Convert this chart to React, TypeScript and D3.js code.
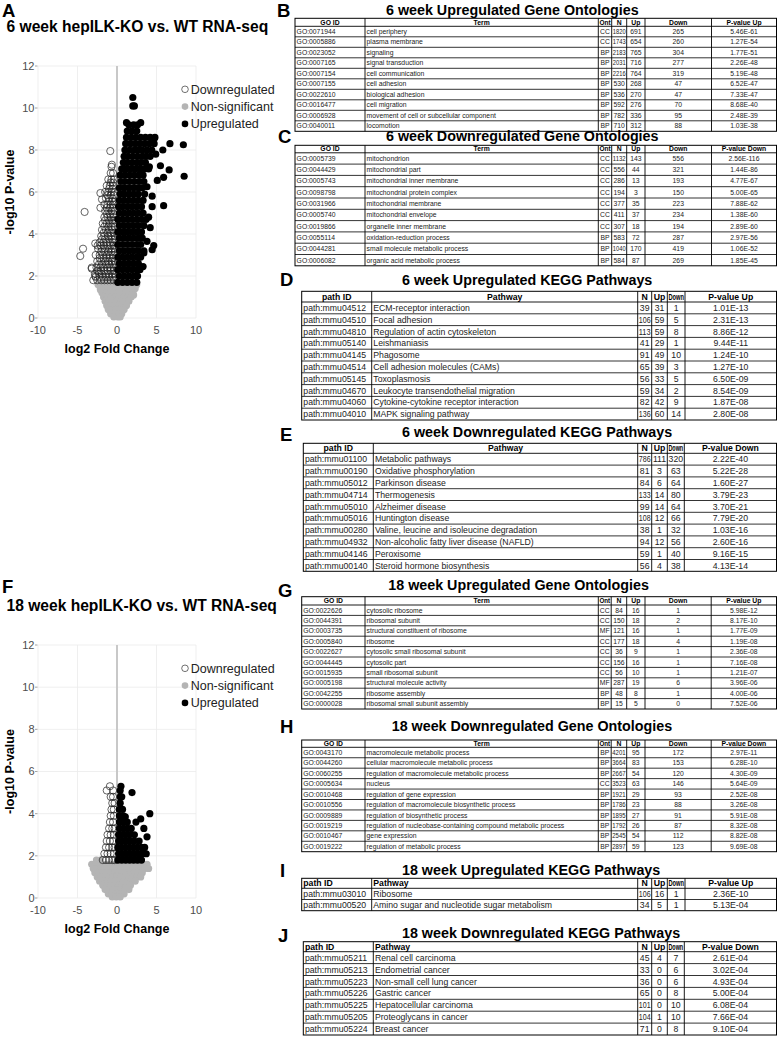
import React from "react";
import * as d3 from "d3";

const FONT = "'Liberation Sans', Arial, Helvetica, sans-serif";

// ---------- Volcano data (x = log2 FC, rows: [y, xs]) ----------
const up6: [number, number[]][] = [
  [1.7, [0.1, 0.7, 1.3, 1.9, 2.5]],
  [2.0, [0.3, 0.9, 1.5, 2.1, 2.6]],
  [2.3, [0.1, 0.7, 1.3, 1.9, 2.5, 2.9]],
  [2.6, [0.3, 0.9, 1.5, 2.1, 2.7]],
  [2.9, [0.1, 0.7, 1.3, 1.9, 2.5, 3.0]],
  [3.2, [0.3, 0.9, 1.5, 2.1, 2.7, 3.4]],
  [3.5, [0.1, 0.7, 1.3, 1.9, 2.5, 3.0]],
  [3.8, [0.3, 0.9, 1.5, 2.1, 2.7, 3.2]],
  [4.1, [0.1, 0.7, 1.3, 1.9, 2.5, 3.1]],
  [4.4, [0.3, 0.9, 1.5, 2.1, 2.7, 3.4]],
  [4.7, [0.1, 0.7, 1.3, 1.9, 2.5, 3.1, 3.7]],
  [5.0, [0.3, 0.9, 1.5, 2.1, 2.7, 3.3]],
  [5.3, [0.2, 0.7, 1.3, 1.9, 2.5, 3.1]],
  [5.6, [0.3, 0.9, 1.5, 2.1, 2.7, 3.3]],
  [5.9, [0.4, 0.9, 1.5, 2.1, 2.7, 3.5]],
  [6.2, [0.3, 0.9, 1.5, 2.1, 2.7, 3.2]],
  [6.5, [0.5, 1.0, 1.6, 2.2, 2.8, 3.4]],
  [6.8, [0.4, 1.0, 1.6, 2.2, 2.8, 3.3]],
  [7.1, [0.6, 1.1, 1.7, 2.3, 2.9, 3.5, 4.0]],
  [7.4, [0.8, 1.3, 1.9, 2.5, 3.0, 3.6]],
  [7.7, [0.9, 1.4, 2.0, 2.6, 3.2, 3.7, 4.2]],
  [8.0, [1.0, 1.6, 2.2, 2.7, 3.2, 3.8, 4.4]],
  [8.3, [1.1, 1.7, 2.3, 2.9, 3.5, 4.1, 4.7]],
  [8.6, [1.2, 1.8, 2.4, 3.0, 3.6, 4.2, 4.8]],
  [8.9, [1.3, 1.9, 2.5]],
  [9.2, [1.5, 2.1, 2.6]],
  [10.5, [2.0]],
  [10.1, [2.0, 2.2]],
  [9.3, [1.2, 3.0]],
  [8.55, [4.7]],
  [7.8, [4.9]],
  [8.0, [5.8]],
  [8.3, [6.7]],
  [8.25, [8.4]],
  [6.75, [8.5]],
  [7.05, [6.6]],
  [7.25, [5.5]],
  [6.7, [5.9]],
  [6.55, [5.1]],
  [5.8, [4.45]],
  [5.35, [5.9]],
  [5.3, [4.45]],
  [4.8, [4.0]],
  [4.3, [4.2]],
  [3.65, [3.8]],
  [3.45, [4.65]],
  [3.25, [4.45]],
  [2.45, [3.3]],
  [3.1, [3.4]],
  [6.25, [3.8]],
  [7.2, [4.1]],
];

const down6: [number, number[]][] = [
  [1.8, [-3.0, -2.5, -2.0, -1.6, -1.2, -0.8, -0.4]],
  [1.95, [-2.7, -2.2, -1.8, -1.4, -1.0, -0.6, -0.2]],
  [2.1, [-2.8, -2.3, -1.9, -1.4, -1.0, -0.6, -0.3]],
  [2.25, [-2.5, -2.0, -1.6, -1.2, -0.8, -0.4]],
  [2.4, [-3.2, -2.6, -2.1, -1.7, -1.2, -0.8, -0.4]],
  [2.55, [-2.3, -1.9, -1.4, -1.0, -0.6, -0.2]],
  [2.7, [-2.5, -2.0, -1.5, -1.1, -0.7, -0.3]],
  [2.85, [-2.2, -1.7, -1.3, -0.9, -0.5]],
  [3.0, [-2.7, -2.2, -1.8, -1.3, -0.9, -0.5]],
  [3.15, [-2.0, -1.6, -1.1, -0.7, -0.3]],
  [3.3, [-2.4, -1.9, -1.5, -1.0, -0.6, -0.3]],
  [3.45, [-2.1, -1.7, -1.2, -0.8, -0.4]],
  [3.6, [-2.2, -1.7, -1.3, -0.9, -0.5]],
  [3.75, [-1.9, -1.5, -1.0, -0.6, -0.3]],
  [3.9, [-2.0, -1.6, -1.1, -0.7, -0.3]],
  [4.05, [-1.7, -1.2, -0.8, -0.4]],
  [4.2, [-1.9, -1.4, -1.0, -0.6]],
  [4.35, [-1.6, -1.1, -0.7, -0.3]],
  [4.5, [-1.8, -1.3, -0.9, -0.5]],
  [4.65, [-1.5, -1.0, -0.6, -0.3]],
  [4.8, [-1.6, -1.2, -0.8, -0.4]],
  [4.95, [-1.3, -0.9, -0.5]],
  [5.1, [-1.5, -1.1, -0.7, -0.3]],
  [5.25, [-1.3, -0.9, -0.5]],
  [5.4, [-1.6, -1.2, -0.8, -0.5]],
  [5.55, [-1.0, -0.6, -0.3]],
  [5.7, [-1.4, -1.0, -0.6]],
  [5.85, [-1.2, -0.8, -0.4]],
  [6.0, [-1.5, -1.1, -0.7, -0.4]],
  [6.15, [-1.0, -0.6]],
  [6.3, [-1.3, -0.9, -0.5]],
  [6.45, [-0.8, -0.5]],
  [6.6, [-1.1, -0.7, -0.4]],
  [6.9, [-0.8, -0.5]],
  [7.2, [-0.7]],
  [7.95, [-0.85]],
  [7.3, [-0.65]],
  [5.95, [-2.1]],
  [5.65, [-1.9]],
  [5.25, [-2.1]],
  [5.05, [-4.1]],
  [3.55, [-2.75]],
  [3.45, [-2.45]],
  [3.3, [-4.3]],
  [2.95, [-4.65]],
  [2.35, [-3.2]],
  [2.0, [-2.75]],
  [2.2, [-2.3]],
];

const ns6: [number, number[]][] = [
  [1.6, [-2.4, -1.9, -1.4, -0.9, -0.4, 0.1, 0.6, 1.1, 1.6, 2.1, 2.5]],
  [1.4, [-2.1, -1.6, -1.1, -0.6, -0.1, 0.4, 0.9, 1.4, 1.9, 2.3]],
  [1.2, [-1.9, -1.4, -0.9, -0.4, 0.1, 0.6, 1.1, 1.6, 2.0]],
  [1.0, [-1.7, -1.2, -0.7, -0.2, 0.3, 0.8, 1.3, 1.8]],
  [0.8, [-1.5, -1.0, -0.5, 0.0, 0.5, 1.0, 1.5]],
  [0.6, [-1.3, -0.8, -0.3, 0.2, 0.7, 1.2]],
  [0.4, [-1.1, -0.6, -0.1, 0.4, 0.9]],
  [0.2, [-0.8, -0.3, 0.2, 0.6]],
  [0.05, [-0.4, 0.1, 0.4]],
  [1.35, [-2.1]],
  [1.1, [2.1]],
];

const up18: [number, number[]][] = [
  [1.8, [0.1, 0.6, 1.1, 1.6, 2.1, 2.6, 3.1]],
  [2.1, [0.2, 0.7, 1.2, 1.7, 2.2, 2.7, 3.2, 3.7]],
  [2.4, [0.1, 0.6, 1.1, 1.6, 2.1, 2.6, 3.1, 3.5]],
  [2.7, [0.2, 0.7, 1.2, 1.7, 2.2, 2.8]],
  [3.0, [0.2, 0.6, 1.1, 1.6, 2.2]],
  [3.3, [0.3, 0.8, 1.3, 1.8, 3.4]],
  [3.6, [0.3, 0.8, 1.3, 2.4]],
  [3.9, [0.3, 0.8]],
  [4.2, [0.3, 0.7]],
  [4.5, [0.4]],
  [4.8, [0.4, 0.6]],
  [5.1, [0.4]],
  [5.3, [0.5]],
  [5.0, [1.9]],
  [4.0, [4.15]],
  [3.75, [3.0]],
  [3.85, [1.05]],
  [2.9, [3.8]],
];

const down18: [number, number[]][] = [
  [1.8, [-1.8, -1.4, -1.0, -0.6, -0.3]],
  [2.1, [-1.6, -1.2, -0.8, -0.4]],
  [2.4, [-1.4, -1.0, -0.6, -0.3]],
  [2.7, [-1.3, -0.9, -0.5]],
  [3.0, [-1.2, -0.8, -0.4]],
  [3.3, [-1.0, -0.6, -0.3]],
  [3.6, [-0.9, -0.5]],
  [3.9, [-0.8, -0.4]],
  [4.2, [-0.7, -0.4]],
  [4.5, [-0.6, -0.3]],
  [4.8, [-0.8, -0.5]],
  [5.1, [-1.3, -0.5]],
  [5.3, [-0.9]],
];

const ns18: [number, number[]][] = [
  [1.8, [-2.6, -2.1]],
  [1.6, [-3.2, -2.7, -2.2, -1.7, -1.2, -0.7, -0.2, 0.3, 0.8, 1.3, 1.8, 2.3, 2.8, 3.3, 3.8]],
  [1.4, [-3.0, -2.5, -2.0, -1.5, -1.0, -0.5, 0.0, 0.5, 1.0, 1.5, 2.0, 2.5, 3.0, 3.5, 4.0]],
  [1.2, [-2.8, -2.3, -1.8, -1.3, -0.8, -0.3, 0.2, 0.7, 1.2, 1.7, 2.2, 2.7, 3.2]],
  [1.0, [-2.5, -2.0, -1.5, -1.0, -0.5, 0.0, 0.5, 1.0, 1.5, 2.0, 2.5, 3.0]],
  [0.8, [-2.2, -1.7, -1.2, -0.7, -0.2, 0.3, 0.8, 1.3, 1.8, 2.3]],
  [0.6, [-1.8, -1.3, -0.8, -0.3, 0.2, 0.7, 1.2, 1.7]],
  [0.4, [-1.5, -1.0, -0.5, 0.0, 0.5, 1.0, 1.5]],
  [0.2, [-1.1, -0.6, -0.1, 0.4, 0.9]],
  [0.05, [-0.6, -0.1, 0.4]],
];

const xTicks = [-10, -5, 0, 5, 10];
const yTicks = [0, 2, 4, 6, 8, 10, 12];
const legendLabels = ["Downregulated", "Non-significant", "Upregulated"];

// ---------- Table data ----------
const goUpHeaders = ["GO ID", "Term", "Ont", "N", "Up", "Down", "P-value Up"];
const goDownHeaders = ["GO ID", "Term", "Ont", "N", "Up", "Down", "P-value Down"];
const keggUpHeaders = ["path ID", "Pathway", "N", "Up", "Down", "P-value Up"];
const keggDownHeaders = ["path ID", "Pathway", "N", "Up", "Down", "P-value Down"];

const rowsB = [
  ["GO:0071944", "cell periphery", "CC", "1820", "691", "265", "5.46E-61"],
  ["GO:0005886", "plasma membrane", "CC", "1743", "654", "260", "1.27E-54"],
  ["GO:0023052", "signaling", "BP", "2183", "765", "304", "1.77E-51"],
  ["GO:0007165", "signal transduction", "BP", "2031", "716", "277", "2.26E-48"],
  ["GO:0007154", "cell communication", "BP", "2216", "764", "319", "5.19E-48"],
  ["GO:0007155", "cell adhesion", "BP", "530", "268", "47", "6.52E-47"],
  ["GO:0022610", "biological adhesion", "BP", "536", "270", "47", "7.33E-47"],
  ["GO:0016477", "cell migration", "BP", "592", "276", "70", "8.68E-40"],
  ["GO:0006928", "movement of cell or subcellular component", "BP", "782", "336", "95", "2.48E-39"],
  ["GO:0040011", "locomotion", "BP", "710", "312", "88", "1.03E-38"],
];
const rowsC = [
  ["GO:0005739", "mitochondrion", "CC", "1132", "143", "556", "2.56E-116"],
  ["GO:0044429", "mitochondrial part", "CC", "556", "44", "321", "1.44E-86"],
  ["GO:0005743", "mitochondrial inner membrane", "CC", "286", "13", "193", "4.77E-67"],
  ["GO:0098798", "mitochondrial protein complex", "CC", "194", "3", "150", "5.00E-65"],
  ["GO:0031966", "mitochondrial membrane", "CC", "377", "35", "223", "7.88E-62"],
  ["GO:0005740", "mitochondrial envelope", "CC", "411", "37", "234", "1.38E-60"],
  ["GO:0019866", "organelle inner membrane", "CC", "307", "18", "194", "2.89E-60"],
  ["GO:0055114", "oxidation-reduction process", "BP", "583", "72", "287", "2.97E-56"],
  ["GO:0044281", "small molecule metabolic process", "BP", "1040", "170", "419", "1.06E-52"],
  ["GO:0006082", "organic acid metabolic process", "BP", "584", "87", "269", "1.85E-45"],
];
const rowsD = [
  ["path:mmu04512", "ECM-receptor interaction", "39", "31", "1", "1.01E-13"],
  ["path:mmu04510", "Focal adhesion", "106", "59", "5", "2.31E-13"],
  ["path:mmu04810", "Regulation of actin cytoskeleton", "113", "59", "8", "8.86E-12"],
  ["path:mmu05140", "Leishmaniasis", "41", "29", "1", "9.44E-11"],
  ["path:mmu04145", "Phagosome", "91", "49", "10", "1.24E-10"],
  ["path:mmu04514", "Cell adhesion molecules (CAMs)", "65", "39", "3", "1.27E-10"],
  ["path:mmu05145", "Toxoplasmosis", "56", "33", "5", "6.50E-09"],
  ["path:mmu04670", "Leukocyte transendothelial migration", "59", "34", "2", "8.54E-09"],
  ["path:mmu04060", "Cytokine-cytokine receptor interaction", "82", "42", "9", "1.87E-08"],
  ["path:mmu04010", "MAPK signaling pathway", "136", "60", "14", "2.80E-08"],
];
const rowsE = [
  ["path:mmu01100", "Metabolic pathways", "786", "111", "320", "2.22E-40"],
  ["path:mmu00190", "Oxidative phosphorylation", "81", "3", "63", "5.22E-28"],
  ["path:mmu05012", "Parkinson disease", "84", "6", "64", "1.60E-27"],
  ["path:mmu04714", "Thermogenesis", "133", "14", "80", "3.79E-23"],
  ["path:mmu05010", "Alzheimer disease", "99", "14", "64", "3.70E-21"],
  ["path:mmu05016", "Huntington disease", "108", "12", "66", "7.79E-20"],
  ["path:mmu00280", "Valine, leucine and isoleucine degradation", "38", "1", "32", "1.03E-16"],
  ["path:mmu04932", "Non-alcoholic fatty liver disease (NAFLD)", "94", "12", "56", "2.60E-16"],
  ["path:mmu04146", "Peroxisome", "59", "1", "40", "9.16E-15"],
  ["path:mmu00140", "Steroid hormone biosynthesis", "56", "4", "38", "4.13E-14"],
];
const rowsG = [
  ["GO:0022626", "cytosolic ribosome", "CC", "84", "16", "1", "5.98E-12"],
  ["GO:0044391", "ribosomal subunit", "CC", "150", "18", "2", "8.17E-10"],
  ["GO:0003735", "structural constituent of ribosome", "MF", "121", "16", "1", "1.77E-09"],
  ["GO:0005840", "ribosome", "CC", "177", "18", "4", "1.19E-08"],
  ["GO:0022627", "cytosolic small ribosomal subunit", "CC", "36", "9", "1", "2.36E-08"],
  ["GO:0044445", "cytosolic part", "CC", "156", "16", "1", "7.16E-08"],
  ["GO:0015935", "small ribosomal subunit", "CC", "56", "10", "1", "1.21E-07"],
  ["GO:0005198", "structural molecule activity", "MF", "287", "19", "6", "3.96E-06"],
  ["GO:0042255", "ribosome assembly", "BP", "48", "8", "1", "4.00E-06"],
  ["GO:0000028", "ribosomal small subunit assembly", "BP", "15", "5", "0", "7.52E-06"],
];
const rowsH = [
  ["GO:0043170", "macromolecule metabolic process", "BP", "4201", "95", "172", "2.97E-11"],
  ["GO:0044260", "cellular macromolecule metabolic process", "BP", "3664", "83", "153", "6.28E-10"],
  ["GO:0060255", "regulation of macromolecule metabolic process", "BP", "2667", "54", "120", "4.30E-09"],
  ["GO:0005634", "nucleus", "CC", "3523", "63", "146", "5.64E-09"],
  ["GO:0010468", "regulation of gene expression", "BP", "1921", "29", "93", "2.52E-08"],
  ["GO:0010556", "regulation of macromolecule biosynthetic process", "BP", "1786", "23", "88", "3.26E-08"],
  ["GO:0009889", "regulation of biosynthetic process", "BP", "1895", "27", "91", "5.91E-08"],
  ["GO:0019219", "regulation of nucleobase-containing compound metabolic process", "BP", "1792", "26", "87", "8.32E-08"],
  ["GO:0010467", "gene expression", "BP", "2545", "54", "112", "8.82E-08"],
  ["GO:0019222", "regulation of metabolic process", "BP", "2897", "59", "123", "9.69E-08"],
];
const rowsI = [
  ["path:mmu03010", "Ribosome", "106", "16", "1", "2.36E-10"],
  ["path:mmu00520", "Amino sugar and nucleotide sugar metabolism", "34", "5", "1", "5.13E-04"],
];
const rowsJ = [
  ["path:mmu05211", "Renal cell carcinoma", "45", "4", "7", "2.61E-04"],
  ["path:mmu05213", "Endometrial cancer", "33", "0", "6", "3.02E-04"],
  ["path:mmu05223", "Non-small cell lung cancer", "36", "0", "6", "4.93E-04"],
  ["path:mmu05226", "Gastric cancer", "65", "0", "8", "5.00E-04"],
  ["path:mmu05225", "Hepatocellular carcinoma", "101", "0", "10", "6.08E-04"],
  ["path:mmu05205", "Proteoglycans in cancer", "104", "1", "10", "7.66E-04"],
  ["path:mmu05224", "Breast cancer", "71", "0", "8", "9.10E-04"],
];

const flatten = (rows: [number, number[]][]) =>
  rows.flatMap(([yy, xs]) => xs.map((xx) => [xx, yy] as [number, number]));

let measureCtx: CanvasRenderingContext2D | null = null;
function measure(text: string, size: number, bold: boolean) {
  if (!measureCtx && typeof document !== "undefined") {
    measureCtx = document.createElement("canvas").getContext("2d");
  }
  if (!measureCtx) return text.length * size * 0.55;
  measureCtx.font = `${bold ? "bold " : ""}${size}px 'Liberation Sans', Arial, sans-serif`;
  return measureCtx.measureText(text).width;
}

const GRAY = "#b4b4b4";

function Volcano(props: {
  y0: number; y12: number; letter: string; letterY: number; title: string; titleY: number;
  up: [number, number[]][]; down: [number, number[]][]; ns: [number, number[]][];
}) {
  const { y0, y12 } = props;
  const x = d3.scaleLinear().domain([-10, 10]).range([38, 196]);
  const y = d3.scaleLinear().domain([0, 12]).range([y0, y12]);
  const r = 3.6;
  const up = flatten(props.up);
  const down = flatten(props.down);
  const ns = flatten(props.ns);
  return (
    <g>
      <text x={2} y={props.letterY} fontSize={18.5} fontWeight="bold" fontFamily={FONT}>{props.letter}</text>
      <text x={6.5} y={props.titleY} fontSize={15.6} fontWeight="bold" fontFamily={FONT}>{props.title}</text>
      {yTicks.map((t) => (
        <line key={"h" + t} x1={x(-10)} x2={x(10)} y1={y(t)} y2={y(t)} stroke="#ebebeb" strokeWidth={0.8} />
      ))}
      {xTicks.filter((t) => t !== 0).map((t) => (
        <line key={"v" + t} x1={x(t)} x2={x(t)} y1={y(0)} y2={y(12)} stroke="#ebebeb" strokeWidth={0.8} />
      ))}
      <line x1={x(0)} x2={x(0)} y1={y(0)} y2={y(12)} stroke="#c8c8c8" strokeWidth={2} />
      {yTicks.map((t) => (
        <g key={"yt" + t}>
          <line x1={x(-10) - 3} x2={x(-10) - 0.5} y1={y(t)} y2={y(t)} stroke="#666" strokeWidth={0.6} />
          <text x={x(-10) - 3.5} y={y(t)} dy="0.35em" textAnchor="end" fontSize={11} fill="#4d4d4d" fontFamily={FONT}>{t}</text>
        </g>
      ))}
      {xTicks.map((t) => (
        <text key={"xt" + t} x={x(t)} y={y(0) + 15.5} textAnchor="middle" fontSize={11} fill="#4d4d4d" fontFamily={FONT}>{t}</text>
      ))}
      <text x={x(0)} y={y(0) + 35} textAnchor="middle" fontSize={12.5} fontWeight="bold" fontFamily={FONT}>log2 Fold Change</text>
      <text transform={`translate(14,${(y(0) + y(12)) / 2}) rotate(-90)`} textAnchor="middle" fontSize={12.5} fontWeight="bold" fontFamily={FONT}>-log10 P-value</text>
      {ns.map((p, i) => (
        <circle key={"n" + i} cx={x(p[0])} cy={y(p[1])} r={r} fill={GRAY} />
      ))}
      {down.map((p, i) => (
        <circle key={"d" + i} cx={x(p[0])} cy={y(p[1])} r={r} fill="none" stroke="#222" strokeWidth={0.7} />
      ))}
      {up.map((p, i) => (
        <circle key={"u" + i} cx={x(p[0])} cy={y(p[1])} r={r} fill="#000" />
      ))}
      {legendLabels.map((lab, i) => {
        const cy = y(12) + 23.3 + i * 17.3;
        return (
          <g key={lab}>
            <circle cx={185} cy={cy} r={3.3}
              fill={i === 0 ? "#fff" : i === 1 ? GRAY : "#000"}
              stroke={i === 0 ? "#333" : "none"} strokeWidth={0.7} />
            <text x={190.7} y={cy} dy="0.35em" fontSize={12.5} fill="#222" fontFamily={FONT}>{lab}</text>
          </g>
        );
      })}
    </g>
  );
}

function Cell(props: { text: string; x0: number; x1: number; y: number; left: boolean; fs: number; bold: boolean; fill: string }) {
  const { text, x0, x1, y, left, fs, bold, fill } = props;
  const avail = x1 - x0 - (left ? 2.5 : 2.2);
  const w = measure(text, fs, bold);
  const squeeze = w > avail;
  return (
    <text x={left ? x0 + 1.6 : (x0 + x1) / 2} y={y} dy="0.36em" textAnchor={left ? "start" : "middle"}
      fontSize={fs} fontWeight={bold ? "bold" : "normal"} fill={fill}
      {...(squeeze ? { textLength: avail, lengthAdjust: "spacingAndGlyphs" } : {})}>{text}</text>
  );
}

function Table(props: {
  letter: string; letterX: number; letterY: number;
  title: string; titleX: number; titleY: number; titleSize: number;
  cols: number[]; top: number; headBottom: number; rowH: number;
  headers: string[]; headLeft: boolean[]; bodyLeft: boolean[];
  rows: string[][]; fs: number;
}) {
  const { cols, top, headBottom, rowH, rows, fs } = props;
  const n = rows.length;
  const ry = d3.scaleLinear().domain([0, n]).range([headBottom, headBottom + n * rowH]);
  const bottom = ry(n);
  const left = cols[0];
  const right = cols[cols.length - 1];
  return (
    <g fontFamily={FONT}>
      <text x={props.letterX} y={props.letterY} fontSize={18.5} fontWeight="bold">{props.letter}</text>
      <text x={props.titleX} y={props.titleY} fontSize={props.titleSize} fontWeight="bold">{props.title}</text>
      <rect x={left} y={top} width={right - left} height={bottom - top} fill="#fff" stroke="#000" strokeWidth={1} />
      <line x1={left} x2={right} y1={headBottom} y2={headBottom} stroke="#000" strokeWidth={0.9} />
      {d3.range(1, n).map((i) => (
        <line key={"r" + i} x1={left} x2={right} y1={ry(i)} y2={ry(i)} stroke="#000" strokeWidth={0.8} />
      ))}
      {cols.slice(1, -1).map((c, i) => (
        <line key={"c" + i} x1={c} x2={c} y1={top} y2={bottom} stroke="#000" strokeWidth={0.9} />
      ))}
      {props.headers.map((h, i) => (
        <Cell key={"h" + i} text={h} x0={cols[i]} x1={cols[i + 1]} y={(top + headBottom) / 2}
          left={props.headLeft[i]} fs={fs} bold={true} fill="#000" />
      ))}
      {rows.map((row, j) =>
        row.map((v, i) => (
          <Cell key={j + "-" + i} text={v} x0={cols[i]} x1={cols[i + 1]} y={(ry(j) + ry(j + 1)) / 2}
            left={props.bodyLeft[i]} fs={fs} bold={false} fill="#222" />
        ))
      )}
    </g>
  );
}

const goCols = [295, 365, 598.3, 611.7, 626.7, 645, 711.5, 776.5];
const goCols18 = [301.7, 365, 598.3, 611.2, 626.7, 645, 711.2, 776.5];
const keggColsD = [301.7, 371.7, 637.7, 651.7, 667.3, 685, 776.5];
const keggColsE = [303.3, 373.3, 637.7, 651.7, 667.3, 684.3, 776.5];
const goHeadLeft = [false, false, false, false, false, false, false];
const goBodyLeft = [true, true, false, false, false, false, false];
const kHeadCenter = [false, false, false, false, false, false];
const kHeadLeft = [true, true, false, false, false, false];
const kBodyLeft = [true, true, false, false, false, false];

const GO_FS = 6.8;
const KEGG_FS = 8.7;
const TITLE_FS = 14.3;

export default function App() {
  return (
    <svg width={777} height={1039} style={{ position: "absolute", left: 0, top: 0, background: "#fff" }}>
      <rect width={777} height={1039} fill="#fff" />
      <Volcano y0={318} y12={66} letter="A" letterY={16.7} title="6 week hepILK-KO vs. WT RNA-seq" titleY={31.7}
        up={up6} down={down6} ns={ns6} />
      <Volcano y0={898} y12={645} letter="F" letterY={593} title="18 week hepILK-KO vs. WT RNA-seq" titleY={610.7}
        up={up18} down={down18} ns={ns18} />

      <Table letter="B" letterX={277} letterY={16.7} title="6 week Upregulated Gene Ontologies" titleX={386} titleY={15.3} titleSize={TITLE_FS}
        cols={goCols} top={18.3} headBottom={26.3} rowH={10.5} headers={goUpHeaders} headLeft={goHeadLeft} bodyLeft={goBodyLeft} rows={rowsB} fs={GO_FS} />
      <Table letter="C" letterX={278} letterY={143} title="6 week Downregulated Gene Ontologies" titleX={386} titleY={141.3} titleSize={TITLE_FS}
        cols={goCols} top={145.3} headBottom={152.8} rowH={11.3} headers={goDownHeaders} headLeft={goHeadLeft} bodyLeft={goBodyLeft} rows={rowsC} fs={GO_FS} />
      <Table letter="D" letterX={280} letterY={286.3} title="6 week Upregulated KEGG Pathways" titleX={402} titleY={284.7} titleSize={TITLE_FS}
        cols={keggColsD} top={291.3} headBottom={302} rowH={11.8} headers={keggUpHeaders} headLeft={kHeadCenter} bodyLeft={kBodyLeft} rows={rowsD} fs={KEGG_FS} />
      <Table letter="E" letterX={280} letterY={441} title="6 week Downregulated KEGG Pathways" titleX={402} titleY={437.3} titleSize={TITLE_FS}
        cols={keggColsE} top={443.3} headBottom={453.3} rowH={11.8} headers={keggDownHeaders} headLeft={kHeadCenter} bodyLeft={kBodyLeft} rows={rowsE} fs={KEGG_FS} />
      <Table letter="G" letterX={278} letterY={596.7} title="18 week Upregulated Gene Ontologies" titleX={388.3} titleY={590} titleSize={TITLE_FS}
        cols={goCols18} top={596.7} headBottom={605} rowH={10.4} headers={goUpHeaders} headLeft={goHeadLeft} bodyLeft={goBodyLeft} rows={rowsG} fs={GO_FS} />
      <Table letter="H" letterX={280} letterY={733.3} title="18 week Downregulated Gene Ontologies" titleX={391.7} titleY={731} titleSize={TITLE_FS}
        cols={goCols18} top={740} headBottom={747.3} rowH={10.44} headers={goDownHeaders} headLeft={goHeadLeft} bodyLeft={goBodyLeft} rows={rowsH} fs={GO_FS} />
      <Table letter="I" letterX={280} letterY={876.7} title="18 week Upregulated KEGG Pathways" titleX={402} titleY={875} titleSize={TITLE_FS}
        cols={keggColsD} top={878.3} headBottom={888.3} rowH={11.2} headers={keggUpHeaders} headLeft={kHeadLeft} bodyLeft={kBodyLeft} rows={rowsI} fs={KEGG_FS} />
      <Table letter="J" letterX={278} letterY={941.7} title="18 week Downregulated KEGG Pathways" titleX={402} titleY={938.3} titleSize={TITLE_FS}
        cols={keggColsE} top={941.7} headBottom={951.7} rowH={11.9} headers={keggDownHeaders} headLeft={kHeadLeft} bodyLeft={kBodyLeft} rows={rowsJ} fs={KEGG_FS} />
    </svg>
  );
}
